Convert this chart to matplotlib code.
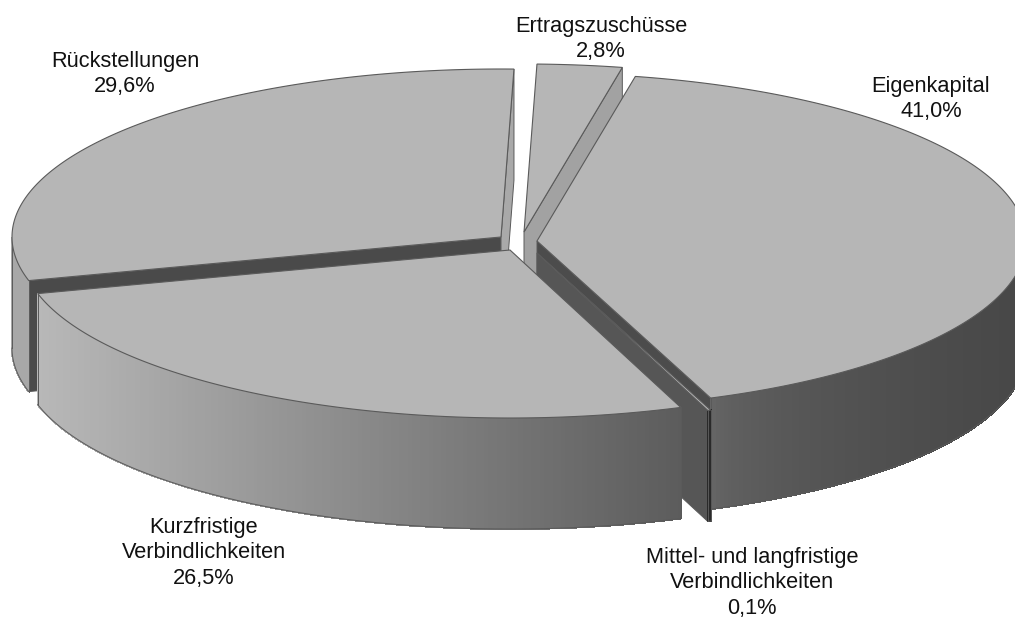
import numpy as np
import matplotlib
matplotlib.use('Agg')
import matplotlib.pyplot as plt

plt.rcParams['font.family'] = ['Liberation Sans', 'DejaVu Sans']

# clockwise from the top right
labels = ['Eigenkapital', 'Mittel- und langfristige\nVerbindlichkeiten',
          'Kurzfristige\nVerbindlichkeiten', 'Rückstellungen', 'Ertragszuschüsse']
values = [41.0, 0.1, 26.5, 29.6, 2.8]
value_text = ['41,0%', '0,1%', '26,5%', '29,6%', '2,8%']

# layout in pixels
rx, ry, depth = 489, 168, 111
start_angle = 78.4
centers = [(537, 241), (537, 253), (510, 250), (501, 237), (524, 232)]
label_pos = [(931, 99), (752, 583), (204, 553), (125, 74), (601, 39)]
draw_order = [4, 3, 0, 1, 2]

top_color = '#b6b6b6'
edge_color = '#5a5a5a'
# shade of the rim, left to right, per slice
rim_colors = [('#686868', '#474747'), ('#2a2a2a', '#2a2a2a'), ('#b8b8b8', '#5c5c5c'),
              ('#a8a8a8', '#a8a8a8'), ('#a0a0a0', '#a0a0a0')]
rim_curve = [0.5, 1, 1, 1, 1]
# cut face at the start and at the end of each slice
face_start = ['#4c4c4c', '#565656', '#4c4c4c', '#4a4a4a', '#a2a2a2']
face_end = ['#4c4c4c', '#565656', '#4c4c4c', '#a9a9a9', '#a2a2a2']


def pt(c, t):
    return c[0] + rx * np.cos(np.radians(t)), c[1] - ry * np.sin(np.radians(t))


def mix(c1, c2, f):
    a = np.array(matplotlib.colors.to_rgb(c1))
    b = np.array(matplotlib.colors.to_rgb(c2))
    return tuple(a + (b - a) * f)


counter = [0]
def z():
    counter[0] += 1
    return counter[0]


def draw_face(ax, c, t, color):
    x, y = pt(c, t)
    ax.fill([c[0], x, x, c[0]], [c[1], y, y + depth, c[1] + depth],
            facecolor=color, edgecolor=edge_color, lw=0.7, zorder=z())


fig = plt.figure(figsize=(10.15, 6.19), dpi=100)
ax = fig.add_axes([0, 0, 1, 1])
ax.set_xlim(0, 1015)
ax.set_ylim(619, 0)
ax.axis('off')

ends = start_angle - np.cumsum([0] + values) * 3.6

for i in draw_order:
    c = centers[i]
    t1, t2 = ends[i], ends[i + 1]

    # cut faces that look towards the viewer
    if np.cos(np.radians(t1)) < 0:
        draw_face(ax, c, t1, face_start[i])
    if np.cos(np.radians(t2)) > 0:
        draw_face(ax, c, t2, face_end[i])

    # rim, only the front part of the arc
    ts = np.linspace(t1, t2, max(int(abs(t1 - t2) * 2), 2) + 1)
    front = ts[np.sin(np.radians(ts)) <= 0]
    if len(front) > 1:
        fx = c[0] + rx * np.cos(np.radians(front))
        for a, b in zip(front[:-1], front[1:]):
            xa, ya = pt(c, a)
            xb, yb = pt(c, b)
            f = ((xa + xb) / 2 - fx.min()) / max(fx.max() - fx.min(), 1)
            col = mix(rim_colors[i][0], rim_colors[i][1], f ** rim_curve[i])
            ax.fill([xa, xb, xb, xa], [ya, yb, yb + depth, ya + depth],
                    facecolor=col, edgecolor=col, lw=0.8, antialiased=False, zorder=z())
        by = c[1] - ry * np.sin(np.radians(front)) + depth
        ax.plot(fx, by, color=edge_color, lw=0.7, zorder=z())
        ax.plot([fx[0], fx[0]], [by[0] - depth, by[0]], color=edge_color, lw=0.7, zorder=z())
        ax.plot([fx[-1], fx[-1]], [by[-1] - depth, by[-1]], color=edge_color, lw=0.7, zorder=z())

    # top
    px = np.r_[c[0], c[0] + rx * np.cos(np.radians(ts)), c[0]]
    py = np.r_[c[1], c[1] - ry * np.sin(np.radians(ts)), c[1]]
    ax.fill(px, py, facecolor=top_color, edgecolor=edge_color, lw=0.8, zorder=z())

for lab, val, pos in zip(labels, value_text, label_pos):
    ax.text(pos[0], pos[1], lab + '\n' + val, ha='center', va='center', fontsize=15.7,
            color='#111111', linespacing=1.3, zorder=z())

plt.savefig('out.png', dpi=100)
